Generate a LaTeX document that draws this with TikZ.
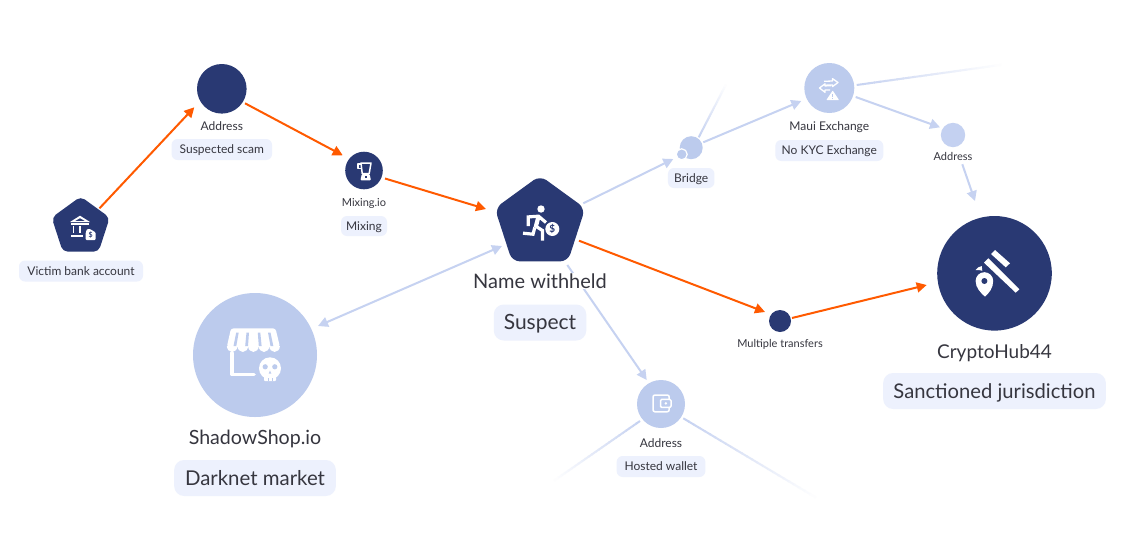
\documentclass[tikz,border=0pt]{standalone}
\usepackage{fontspec}
\setmainfont{Lato}
\usetikzlibrary{arrows.meta,calc,shapes.geometric}
\definecolor{navy}{HTML}{293973}
\definecolor{lightnode}{HTML}{BCCBED}
\definecolor{softnode}{HTML}{C4D1F1}
\definecolor{edgeblue}{HTML}{C6D2F1}
\definecolor{hot}{HTML}{FF5A00}
\definecolor{pillbg}{HTML}{EDF1FD}
\definecolor{ink}{HTML}{36363F}
\tikzset{
  nodedot/.style={circle,draw=none,inner sep=0pt,outer sep=0pt,minimum size=#1},
  penta/.style={regular polygon,regular polygon sides=5,inner sep=0pt,outer sep=0pt,fill=navy,minimum size=#1},
  smalltext/.style={font=\fontsize{12}{14}\selectfont,text=ink,inner sep=0pt,outer sep=0pt,text height=9.5pt,text depth=1pt},
  tinytext/.style={smalltext,font=\fontsize{11}{14}\selectfont},
  bigtext/.style={font=\fontsize{19.6}{22}\selectfont,text=ink,inner sep=0pt,outer sep=0pt,text height=15pt,text depth=1pt},
  smallpill/.style={smalltext,fill=pillbg,rounded corners=6pt,minimum height=21pt},
  bigpill/.style={bigtext,font=\fontsize{20.2}{22}\selectfont,fill=pillbg,rounded corners=10pt,minimum height=36pt},
  hotedge/.style={draw=hot,line width=2pt,-{Triangle[length=10pt,width=10pt]}},
  blueedge/.style={draw=edgeblue,line width=2pt,-{Triangle[length=10pt,width=10pt]}},
  iconline/.style={draw=white,line width=1.5pt,line join=round},
}
\newcommand{\fadeedge}[2]{%
  \foreach \i in {0,...,24}{%
    \pgfmathtruncatemacro{\p}{100-4*\i}%
    \pgfmathsetmacro{\ta}{\i/25}%
    \pgfmathsetmacro{\tb}{(\i+1.2)/25}%
    \draw[draw=edgeblue!\p!white,line width=2pt] ($(#1)!\ta!(#2)$) -- ($(#1)!\tb!(#2)$);
  }%
}
\begin{document}
\begin{tikzpicture}[x=1pt,y=-1pt]
\useasboundingbox (0,0) rectangle (1126,557);
\fill[white] (0,0) rectangle (1126,557);

% main shapes
\node[penta=61pt,rounded corners=5pt] (victim) at (80.7,227) {};
\node[penta=95pt,rounded corners=8pt] (suspect) at (540,223) {};
\node[nodedot=49.6pt,fill=navy] (addrtop) at (221.8,88.8) {};
\node[nodedot=37.6pt,fill=navy] (mixer) at (364,170.5) {};
\node[nodedot=23pt,fill=lightnode] (bridge) at (691.2,147.7) {};
\node[nodedot=11pt,fill=lightnode,draw=white,line width=1.2pt] (bridgemini) at (681.7,154.3) {};
\node[nodedot=50pt,fill=lightnode] (maui) at (829.3,88) {};
\node[nodedot=24.4pt,fill=softnode] (addrsmall) at (953,135) {};
\node[nodedot=114.6pt,fill=navy] (crypto) at (994.5,273.3) {};
\node[nodedot=124pt,fill=lightnode] (shadow) at (255,355) {};
\node[nodedot=48pt,fill=lightnode] (wallet) at (661,404) {};
\node[nodedot=22pt,fill=navy] (transfers) at (780,321) {};

% connectors
\draw[hotedge] ([shift={(18.8,-18.7)}]victim.center) -- ([shift={(-27.5,18.5)}]addrtop.center);
\draw[hotedge] ([shift={(23.2,14.5)}]addrtop.center) -- ([shift={(-21.3,-15.2)}]mixer.center);
\draw[hotedge] ([shift={(21,8)}]mixer.center) -- ([shift={(-54,-14)}]suspect.center);
\draw[hotedge] ([shift={(39,17.7)}]suspect.center) -- ([shift={(-15,-9)}]transfers.center);
\draw[hotedge] ([shift={(12,-3)}]transfers.center) -- ([shift={(-67.8,11.7)}]crypto.center);
\draw[blueedge] ([shift={(43.3,-19.7)}]suspect.center) -- ([shift={(-17.9,11.3)}]bridge.center);
\draw[blueedge] ([shift={(12.1,-5.4)}]bridge.center) -- ([shift={(-28,13)}]maui.center);
\draw[blueedge] ([shift={(26.4,9)}]maui.center) -- ([shift={(-13,-7.7)}]addrsmall.center);
\draw[blueedge] ([shift={(9.3,29.3)}]addrsmall.center) -- ([shift={(-19.5,-72.3)}]crypto.center);
\draw[blueedge,{Triangle[length=10pt,width=10pt]}-{Triangle[length=10pt,width=10pt]}] ([shift={(-38,23)}]suspect.center) -- ([shift={(63,-29)}]shadow.center);
\draw[blueedge] ([shift={(27.3,42)}]suspect.center) -- ([shift={(-14.3,-24)}]wallet.center);

% connectors that fade out
\coordinate (fadeA) at (725.7,85);
\coordinate (fadeB) at (1000,65);
\coordinate (fadeC) at (555,480);
\coordinate (fadeD) at (815,497);
\coordinate (startA) at ([shift={(7.5,-10.4)}]bridge.center);
\coordinate (startB) at ([shift={(27.4,-3)}]maui.center);
\coordinate (startC) at ([shift={(-21,17)}]wallet.center);
\coordinate (startD) at ([shift={(22.3,14.3)}]wallet.center);
\fadeedge{startA}{fadeA}
\fadeedge{startB}{fadeB}
\fadeedge{startC}{fadeC}
\fadeedge{startD}{fadeD}

% labels
\node[smalltext] (addrtoplabel) at (221.8,126) {Address};
\node[smallpill,minimum width=100.5pt] (scampill) at (221.8,149.5) {Suspected scam};
\node[tinytext] (mixerlabel) at (364,202) {Mixing.io};
\node[smallpill,minimum width=46pt,minimum height=20pt] (mixpill) at (364,226) {Mixing};
\node[smallpill,minimum width=124pt] (victimpill) at (81,271) {Victim bank account};
\node[bigtext,font=\fontsize{20}{22}\selectfont,fill=white] (suspectlabel) at (540,281) {Name withheld};
\node[bigpill,font=\fontsize{21}{22}\selectfont,minimum width=92.5pt] (suspectpill) at (540,322.5) {Suspect};
\node[smallpill,minimum width=46.5pt,minimum height=20pt] (bridgepill) at (691.2,178) {Bridge};
\node[smalltext] (mauilabel) at (829.3,126) {Maui Exchange};
\node[smallpill,minimum width=108pt] (kycpill) at (829.3,150.5) {No KYC Exchange};
\node[tinytext] (addrsmalllabel) at (953,156) {Address};
\node[tinytext] (transferslabel) at (780,343) {Multiple transfers};
\node[bigtext,font=\fontsize{19}{22}\selectfont] (cryptolabel) at (994.5,351) {CryptoHub44};
\node[bigpill,minimum width=222.7pt] (cryptopill) at (994.5,391) {Sanctioned jurisdiction};
\node[bigtext] (shadowlabel) at (255,437) {ShadowShop.io};
\node[bigpill,font=\fontsize{20.4}{22}\selectfont,minimum width=161.7pt] (shadowpill) at (255,478) {Darknet market};
\node[smalltext] (walletlabel) at (661,443) {Address};
\node[smallpill,minimum width=88.7pt] (walletpill) at (661,466.5) {Hosted wallet};

% icon: bank
\fill[white] (80,215.7) -- (90,222) -- (70,222) -- cycle;
\fill[navy] (80,218.3) -- (84.6,220.9) -- (75.4,220.9) -- cycle;
\fill[white] (71,223.2) rectangle (89,224.8);
\fill[white] (72.5,226) rectangle (74.4,233.3);
\fill[white] (79.1,226) rectangle (81,233.3);
\fill[white] (71,235) rectangle (82.7,236.6);
\fill[white,rounded corners=1pt] (87,229) -- (90,229) -- (95.7,232.5) -- (95.7,240) -- (85.7,240) -- (85.7,232.5) -- cycle;
\node[inner sep=0pt,text=navy,font=\fontsize{7}{7}\bfseries\selectfont] (bankdollar) at (90.7,235.5) {\$};

% icon: blender
\draw[iconline,line width=1.5pt] (361,163) -- (371,163) -- (369.2,173.5) -- (362.2,173.5) -- cycle;
\draw[iconline,line width=1.3pt] (361.3,164) -- (358,164) -- (358,168.5) -- (361.9,168.5);
\fill[white,rounded corners=1pt] (361.8,174) -- (369.6,174) -- (371,180.3) -- (360.4,180.3) -- cycle;
\fill[navy] (364.5,176.4) rectangle (366.9,178.2);

% icon: runner
\fill[white] (541,209) circle (3.7pt);
\fill[white] (552.3,229) circle (7pt);
\draw[white,line width=3.2pt,line join=miter] (528.3,226) -- (528.3,216.9) -- (538.5,216.2) -- (546,222.5);
\draw[white,line width=4.2pt] (538.6,216) -- (535.6,227.5);
\draw[white,line width=3.2pt,line join=miter] (535.5,226) -- (542.5,230.5) -- (542.5,240.5);
\draw[white,line width=3.2pt,line join=miter] (534.8,227.5) -- (533,234.2) -- (523,233.2);
\node[inner sep=0pt,text=navy,font=\fontsize{10}{10}\bfseries\selectfont] (runnerdollar) at (552.3,229) {\$};

% icon: exchange
\draw[iconline,line width=1.3pt] (824.5,85.2) -- (832.5,85) -- (832.5,86.6) -- (838,82.5) -- (832.5,78.6) -- (832.5,81) -- (824,81.3);
\draw[iconline,line width=1.3pt] (831,85.7) -- (825,85.9) -- (825,83.8) -- (819.5,88) -- (825,92.3) -- (825,90) -- (830,90);
\fill[white,rounded corners=.5pt] (832.7,90.5) -- (839,100) -- (826.4,100) -- cycle;
\fill[lightnode] (832.2,93.8) rectangle (833.2,97);
\fill[lightnode] (832.2,97.7) rectangle (833.2,98.7);

% icon: gavel and pin
\fill[white] (995,250) -- (1010,263.3) -- (1005.7,267.3) -- (991,254) -- cycle;
\fill[white] (984,262.7) -- (988.3,258.3) -- (1019.3,289.3) -- (1015.7,292.7) -- cycle;
\fill[white] (975.7,270) .. controls (977,268) and (979,266.5) .. (981.7,266) -- (982.3,270.7) .. controls (980,270) and (978,270) .. (975.7,270) -- cycle;
\fill[white] (985,296.7) .. controls (981,293) and (975.6,288) .. (975.6,281) arc[start angle=180,delta angle=-180,radius=8.8pt] .. controls (993.2,288) and (989,293) .. (985,296.7) -- cycle;
\fill[navy] (984.4,281) circle (3pt);

% icon: shop and skull
\fill[white,rounded corners=2.5pt] (231,328.4) -- (275.5,328.4) -- (280,347) -- (226.8,347) -- cycle;
\foreach \cx in {232.2,242.8,253.4,264,274.6}{
  \fill[white] (\cx-5.3,346) arc[start angle=180,end angle=0,x radius=5.3pt,y radius=-6pt] -- cycle;
}
\fill[lightnode] (236.2,332.5) -- (238.7,332.5) -- (236.3,346) -- (233.5,346) -- cycle;
\fill[lightnode] (246.5,332.5) -- (249,332.5) -- (248,346) -- (245.2,346) -- cycle;
\fill[lightnode] (257.8,332.5) -- (260.3,332.5) -- (261.6,346) -- (258.8,346) -- cycle;
\fill[lightnode] (268,332.5) -- (270.5,332.5) -- (273.3,346) -- (270.5,346) -- cycle;
\draw[white,line width=3.6pt,line join=round,line cap=round] (232,353) -- (232,374.5) -- (254,374.5);
\fill[lightnode] (270,368.3) circle (13.5pt);
\fill[white] (270,368.3) circle (11pt);
\fill[white,rounded corners=1pt] (264,372) rectangle (276,381.2);
\fill[lightnode] (265.2,366.8) circle (2.6pt);
\fill[lightnode] (274.8,366.8) circle (2.6pt);
\fill[lightnode] (270,370.6) -- (271.3,373.6) -- (268.7,373.6) -- cycle;
\fill[lightnode] (267.6,378) rectangle (268.5,381.2);
\fill[lightnode] (271.5,378) rectangle (272.4,381.2);

% icon: wallet
\draw[iconline,rounded corners=2pt] (669.2,399) -- (669.2,395) -- (653,395) -- (653,411.8) -- (669.2,411.8) -- (669.2,407.6);
\draw[iconline,rounded corners=1.2pt] (660.5,399.4) rectangle (671,407.4);
\fill[white] (665.8,403.4) circle (1.4pt);
\end{tikzpicture}
\end{document}
